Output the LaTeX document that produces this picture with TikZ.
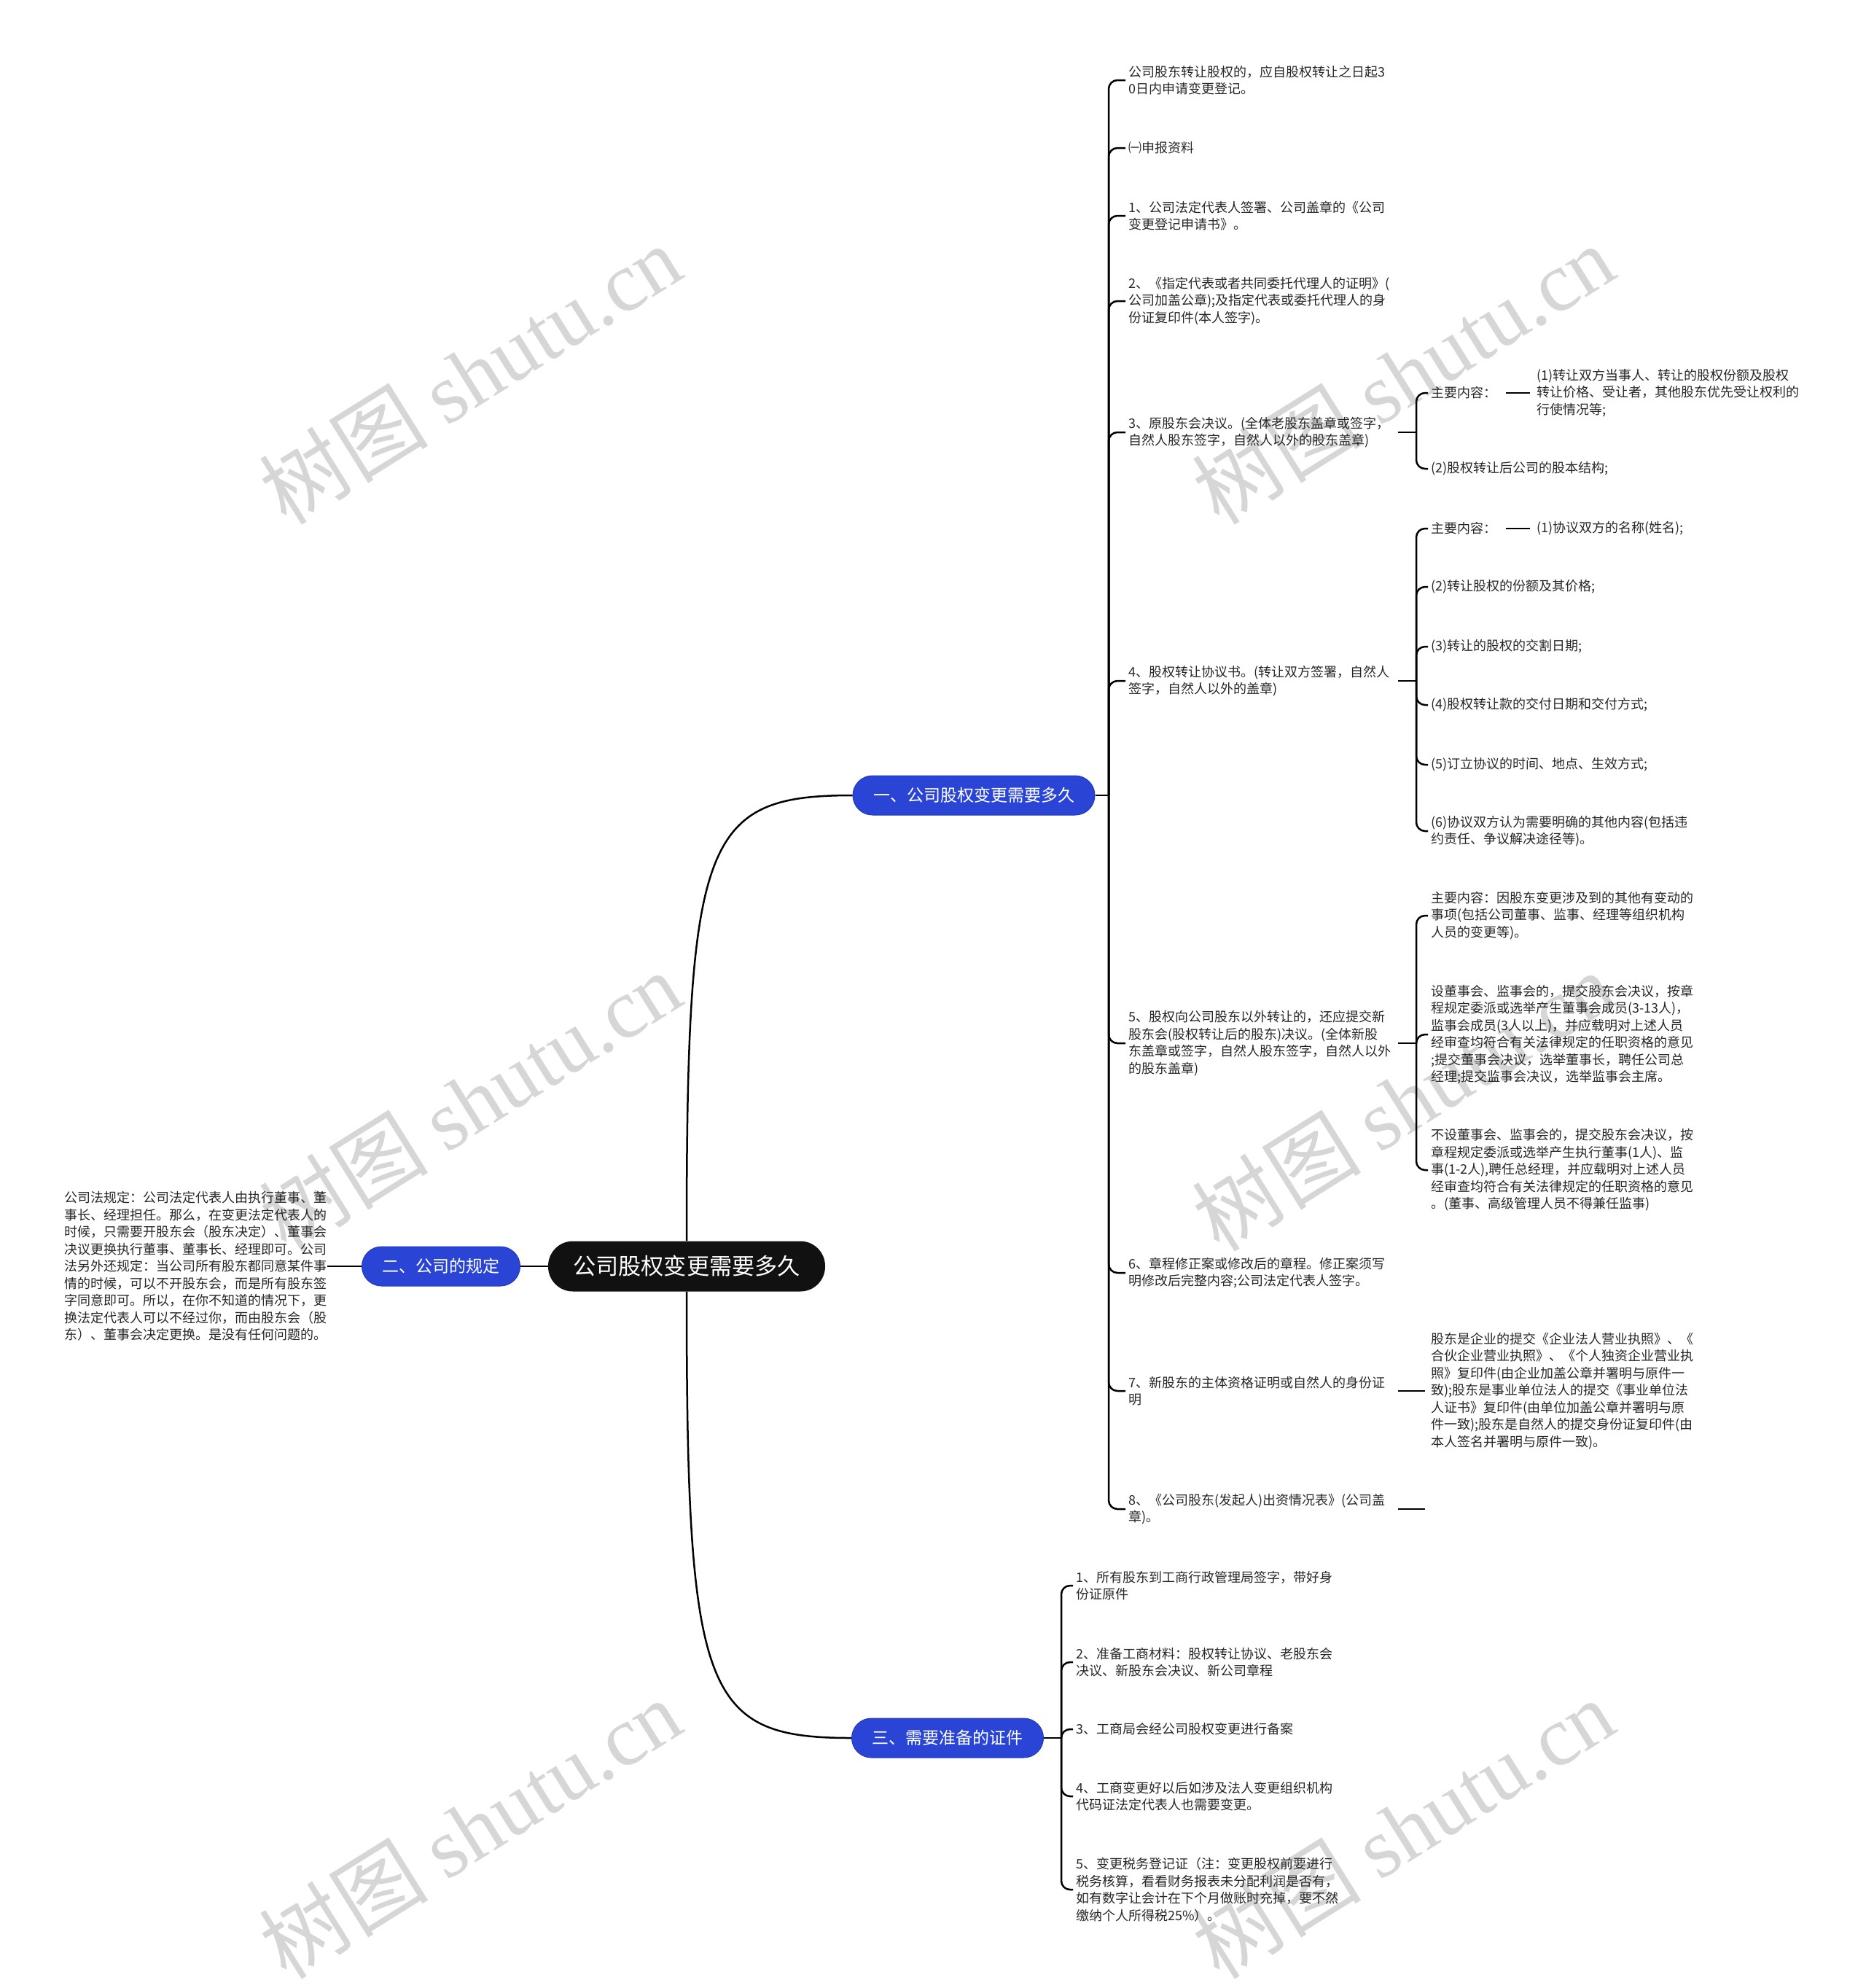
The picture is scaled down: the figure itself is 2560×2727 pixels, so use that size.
\documentclass[tikz,border=0pt]{standalone}
\usepackage{fontspec}
\setmainfont{Noto Sans CJK SC}
\newfontfamily\wmlatin{Liberation Serif}
\definecolor{branchblue}{HTML}{2A45D6}
\definecolor{branchborder}{HTML}{2139BC}
\definecolor{rootblack}{HTML}{111111}
\definecolor{wmgray}{HTML}{D6D6D6}
\definecolor{leaftext}{HTML}{262626}
\begin{document}
\begin{tikzpicture}[x=0.5pt,y=-0.5pt,
  link/.style={draw=black,line width=1.25pt},
  hook/.style={link,rounded corners=6pt},
  leaf/.style={anchor=west,align=left,inner sep=0pt,text=leaftext,font=\fontsize{9}{11.75}\selectfont},
  branch/.style={rounded corners=13.5pt,fill=branchblue,draw=branchborder,line width=0.5pt,text=white,font=\fontsize{11.5}{13}\selectfont,minimum height=27pt,inner xsep=14pt,inner ysep=0pt},
  root/.style={rounded corners=17pt,fill=rootblack,text=white,font=\fontsize{15.6}{18}\selectfont,minimum height=34.5pt,inner xsep=17pt,inner ysep=0pt},
  watermark/.style={text=wmgray,rotate=32,font=\fontsize{58}{60}\selectfont}
]
\useasboundingbox (0,0) rectangle (2560,2727);

% watermarks
\node[watermark] (wm1) at (645,513) {树图 {\wmlatin shutu.cn}};
\node[watermark] (wm2) at (1925,513) {树图 {\wmlatin shutu.cn}};
\node[watermark] (wm3) at (645,1510) {树图 {\wmlatin shutu.cn}};
\node[watermark] (wm4) at (1925,1510) {树图 {\wmlatin shutu.cn}};
\node[watermark] (wm5) at (645,2508) {树图 {\wmlatin shutu.cn}};
\node[watermark] (wm6) at (1925,2508) {树图 {\wmlatin shutu.cn}};

% helper x positions
\coordinate (rx) at (1918,0);
\coordinate (bx) at (1943,0);

% root and branches
\node[root] (root) at (942,1737) {公司股权变更需要多久};
\node[branch] (br1) at (1336,1091) {一、公司股权变更需要多久};
\node[branch] (br2) at (605,1737) {二、公司的规定};
\node[branch] (br3) at (1300,2384) {三、需要准备的证件};

\draw[link] (root.north) .. controls (942,1150) and (965,1091) .. (br1.west);
\draw[link] (root.south) .. controls (942,2325) and (965,2384) .. (br3.west);
\draw[link] (root.west) -- (br2.east);

% left text
\node[leaf] (lt) at (88,1737) {公司法规定：公司法定代表人由执行董事、董\\事长、经理担任。那么，在变更法定代表人的\\时候，只需要开股东会（股东决定）、董事会\\决议更换执行董事、董事长、经理即可。公司\\法另外还规定：当公司所有股东都同意某件事\\情的时候，可以不开股东会，而是所有股东签\\字同意即可。所以，在你不知道的情况下，更\\换法定代表人可以不经过你，而由股东会（股\\东）、董事会决定更换。是没有任何问题的。};
\draw[link] (br2.west) -- (lt.east);

% level 2 under branch 1
\node[leaf] (a0) at (1548,110) {公司股东转让股权的，应自股权转让之日起3\\0日内申请变更登记。};
\node[leaf] (a1) at (1548,203) {㈠申报资料};
\node[leaf] (a2) at (1548,296) {1、公司法定代表人签署、公司盖章的《公司\\变更登记申请书》。};
\node[leaf] (a3) at (1548,413) {2、《指定代表或者共同委托代理人的证明》(\\公司加盖公章);及指定代表或委托代理人的身\\份证复印件(本人签字)。};
\node[leaf] (a4) at (1548,593) {3、原股东会决议。(全体老股东盖章或签字，\\自然人股东签字，自然人以外的股东盖章)};
\node[leaf] (a5) at (1548,934) {4、股权转让协议书。(转让双方签署，自然人\\签字，自然人以外的盖章)};
\node[leaf] (a6) at (1548,1431) {5、股权向公司股东以外转让的，还应提交新\\股东会(股权转让后的股东)决议。(全体新股\\东盖章或签字，自然人股东签字，自然人以外\\的股东盖章)};
\node[leaf] (a7) at (1548,1746) {6、章程修正案或修改后的章程。修正案须写\\明修改后完整内容;公司法定代表人签字。};
\node[leaf] (a8) at (1548,1908) {7、新股东的主体资格证明或自然人的身份证\\明};
\node[leaf] (a9) at (1548,2070) {8、《公司股东(发起人)出资情况表》(公司盖\\章)。};

\coordinate (t1) at (1521,1091);
\draw[link] (br1.east) -- (t1);
\foreach \n in {a0,a1,a2,a3,a4,a5,a6,a7,a8,a9}{
  \draw[hook] (t1) |- ([xshift=-2pt]\n.west);
}

% level 3 under item 3
\node[leaf] (b41) at (1963,539) {主要内容：};
\node[leaf] (c41) at (2108,539) {(1)转让双方当事人、转让的股权份额及股权\\转让价格、受让者，其他股东优先受让权利的\\行使情况等;};
\node[leaf] (b42) at (1963,643) {(2)股权转让后公司的股本结构;};
\coordinate (j4) at (a4.west -| bx);
\draw[link] (a4.west -| rx) -- (j4);
\foreach \n in {b41,b42}{
  \draw[hook] (j4) |- ([xshift=-2pt]\n.west);
}
\draw[link] ([xshift=6pt]b41.east) -- ([xshift=-4.5pt]c41.west);

% level 3 under item 4
\node[leaf] (b51) at (1963,725) {主要内容：};
\node[leaf] (c51) at (2108,725) {(1)协议双方的名称(姓名);};
\node[leaf] (b52) at (1963,805) {(2)转让股权的份额及其价格;};
\node[leaf] (b53) at (1963,887) {(3)转让的股权的交割日期;};
\node[leaf] (b54) at (1963,967) {(4)股权转让款的交付日期和交付方式;};
\node[leaf] (b55) at (1963,1049) {(5)订立协议的时间、地点、生效方式;};
\node[leaf] (b56) at (1963,1140) {(6)协议双方认为需要明确的其他内容(包括违\\约责任、争议解决途径等)。};
\coordinate (j5) at (a5.west -| bx);
\draw[link] (a5.west -| rx) -- (j5);
\foreach \n in {b51,b52,b53,b54,b55,b56}{
  \draw[hook] (j5) |- ([xshift=-2pt]\n.west);
}
\draw[link] ([xshift=6pt]b51.east) -- ([xshift=-4.5pt]c51.west);

% level 3 under item 5
\node[leaf] (b61) at (1963,1256) {主要内容：因股东变更涉及到的其他有变动的\\事项(包括公司董事、监事、经理等组织机构\\人员的变更等)。};
\node[leaf] (b62) at (1963,1419) {设董事会、监事会的，提交股东会决议，按章\\程规定委派或选举产生董事会成员(3-13人)，\\监事会成员(3人以上)，并应载明对上述人员\\经审查均符合有关法律规定的任职资格的意见\\;提交董事会决议，选举董事长，聘任公司总\\经理;提交监事会决议，选举监事会主席。};
\node[leaf] (b63) at (1963,1605) {不设董事会、监事会的，提交股东会决议，按\\章程规定委派或选举产生执行董事(1人)、监\\事(1-2人),聘任总经理，并应载明对上述人员\\经审查均符合有关法律规定的任职资格的意见\\。(董事、高级管理人员不得兼任监事)};
\coordinate (j6) at (a6.west -| bx);
\draw[link] (a6.west -| rx) -- (j6);
\foreach \n in {b61,b62,b63}{
  \draw[hook] (j6) |- ([xshift=-2pt]\n.west);
}

% level 3 under item 7 and 8
\node[leaf] (e8) at (1963,1908) {股东是企业的提交《企业法人营业执照》、《\\合伙企业营业执照》、《个人独资企业营业执\\照》复印件(由企业加盖公章并署明与原件一\\致);股东是事业单位法人的提交《事业单位法\\人证书》复印件(由单位加盖公章并署明与原\\件一致);股东是自然人的提交身份证复印件(由\\本人签名并署明与原件一致)。};
\draw[link] (a8.west -| rx) -- ([xshift=-4pt]e8.west);
\coordinate (a9end) at (1955,2070);
\draw[link] (a9.west -| rx) -- (a9end);

% level 2 under branch 3
\node[leaf] (d1) at (1476,2175) {1、所有股东到工商行政管理局签字，带好身\\份证原件};
\node[leaf] (d2) at (1476,2280) {2、准备工商材料：股权转让协议、老股东会\\决议、新股东会决议、新公司章程};
\node[leaf] (d3) at (1476,2372) {3、工商局会经公司股权变更进行备案};
\node[leaf] (d4) at (1476,2464) {4、工商变更好以后如涉及法人变更组织机构\\代码证法定代表人也需要变更。};
\node[leaf] (d5) at (1476,2592) {5、变更税务登记证（注：变更股权前要进行\\税务核算，看看财务报表未分配利润是否有，\\如有数字让会计在下个月做账时充掉，要不然\\缴纳个人所得税25\%）。};
\coordinate (t3) at (1456,2384);
\draw[link] (br3.east) -- (t3);
\foreach \n in {d1,d2,d3,d4,d5}{
  \draw[hook] (t3) |- ([xshift=-2pt]\n.west);
}
\end{tikzpicture}
\end{document}
